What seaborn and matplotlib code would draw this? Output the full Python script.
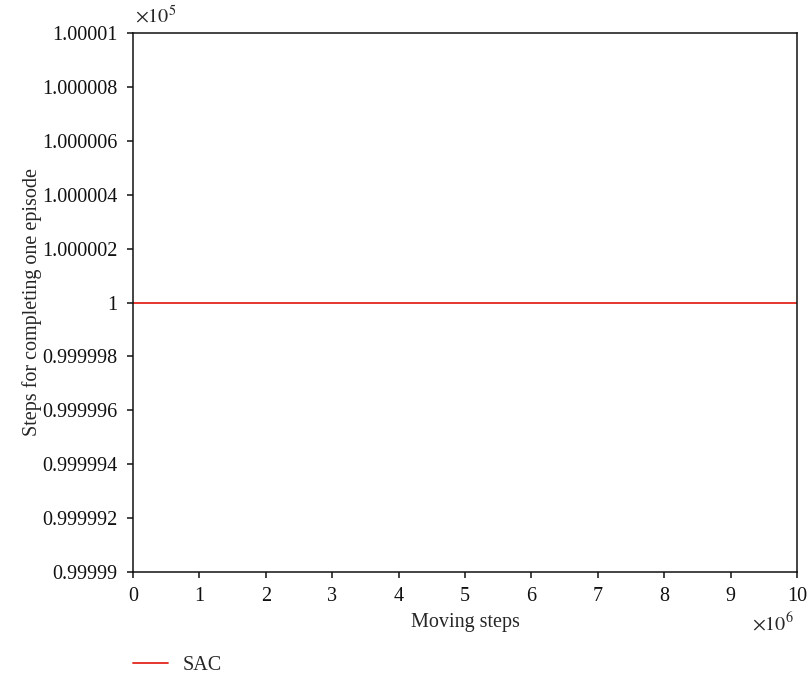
import matplotlib
matplotlib.use("Agg")
import matplotlib.pyplot as plt
import seaborn as sns
import pandas as pd
from matplotlib.ticker import FuncFormatter
from matplotlib.lines import Line2D

# Data
moving_steps = [0, 1e6, 2e6, 3e6, 4e6, 5e6, 6e6, 7e6, 8e6, 9e6, 10e6]
sac_steps = [100000, 100000, 100000, 100000, 100000, 100000,
             100000, 100000, 100000, 100000, 100000]
x_ticks = [0, 1e6, 2e6, 3e6, 4e6, 5e6, 6e6, 7e6, 8e6, 9e6, 10e6]
y_ticks = [99999, 99999.2, 99999.4, 99999.6, 99999.8, 100000,
           100000.2, 100000.4, 100000.6, 100000.8, 100001]

df = pd.DataFrame({"Moving steps": moving_steps, "value": sac_steps, "series": "SAC"})

sns.set_theme(style="ticks")
plt.rcParams["font.family"] = ["Liberation Serif", "DejaVu Serif"]
plt.rcParams["mathtext.fontset"] = "stix"

FS = 14.5
RED = "#e4261c"

fig = plt.figure(figsize=(8.08, 6.78), dpi=100)
ax = fig.add_axes([133 / 808, 1 - 572 / 678, 664 / 808, 539 / 678])

sns.lineplot(data=df, x="Moving steps", y="value", hue="series",
             palette=[RED], linewidth=1.3, ax=ax, legend=False)

ax.set_xlim(0, 1e7)
ax.set_ylim(99999, 100001)
ax.set_xticks(x_ticks)
ax.set_yticks(y_ticks)
ax.xaxis.set_major_formatter(FuncFormatter(lambda v, p: f"{v/1e6:g}"))
ax.yaxis.set_major_formatter(
    FuncFormatter(lambda v, p: f"{v/1e5:.6f}".rstrip("0").rstrip(".")))

for s in ax.spines.values():
    s.set_linewidth(1.1)
    s.set_color("#111111")
ax.tick_params(axis="both", direction="out", length=4.5, width=1.1,
               labelsize=FS, colors="#111111")
ax.tick_params(axis="x", pad=6)
ax.tick_params(axis="y", pad=6.5)

ax.set_xlabel("Moving steps", fontsize=FS)
ax.set_ylabel("Steps for completing one episode", fontsize=FS)
ax.xaxis.set_label_coords(0.5, (572 - 623) / 539)
ax.xaxis.label.set_va("center")
ax.yaxis.set_label_coords((32 - 133) / 664, 0.5)
ax.yaxis.label.set_va("center")

ax.text(0.003, (572 - 17) / 539, r"$\times10^{5}$", transform=ax.transAxes,
        fontsize=FS, ha="left", va="center")
ax.text((794 - 133) / 664, (572 - 624) / 539, r"$\times10^{6}$",
        transform=ax.transAxes, fontsize=FS, ha="right", va="center")

handle = Line2D([], [], color=RED, linewidth=1.3)
fig.legend([handle], ["SAC"], loc="center left",
           bbox_to_anchor=(133 / 808, 1 - 665 / 678),
           frameon=False, fontsize=FS, handlelength=1.75, handletextpad=0.7,
           borderpad=0, borderaxespad=0)

fig.savefig("out.png", dpi=100)
